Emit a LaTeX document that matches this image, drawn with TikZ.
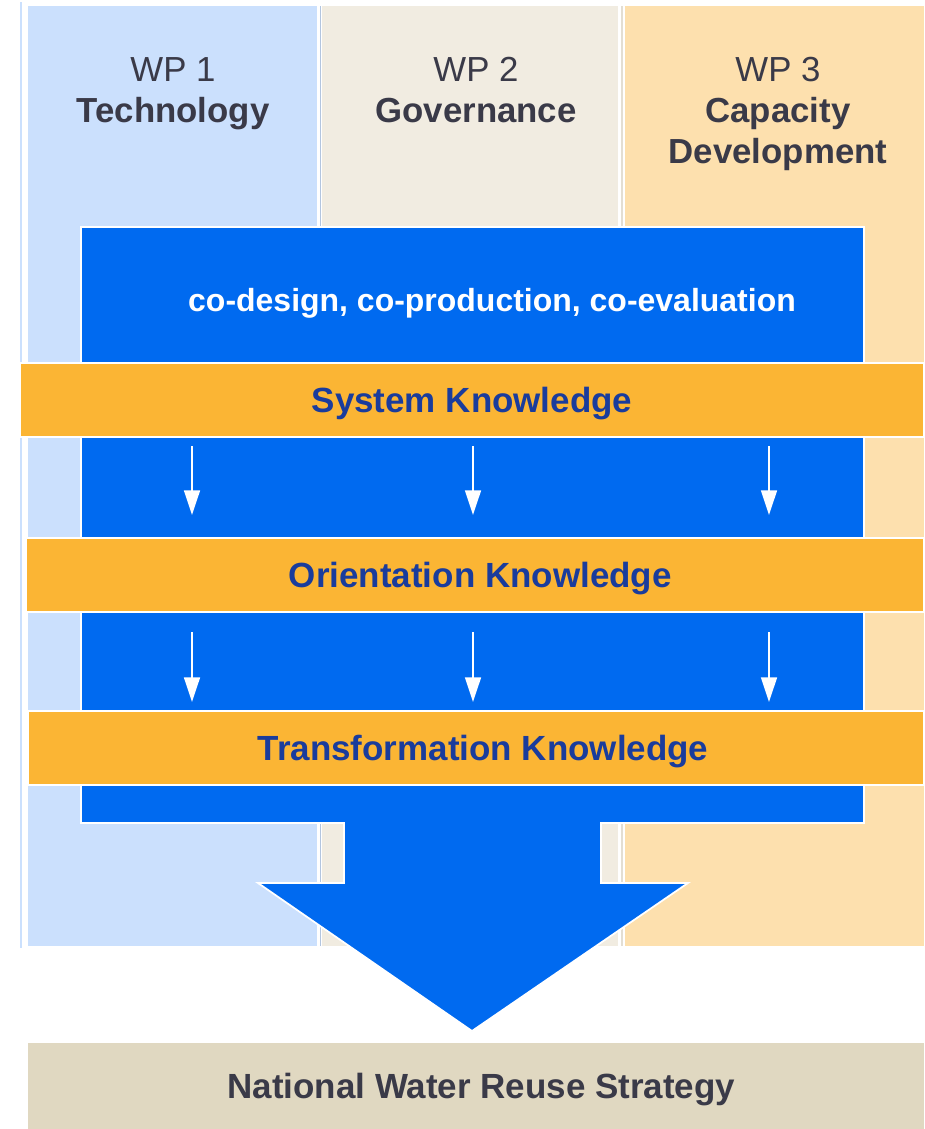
\documentclass[tikz,border=0pt]{standalone}
\usepackage{fontspec}
\setmainfont{Liberation Sans}
\usetikzlibrary{arrows.meta}

\definecolor{wpone}{HTML}{CBE0FD}
\definecolor{wptwo}{HTML}{F1ECE1}
\definecolor{wpthree}{HTML}{FDE0AE}
\definecolor{coblue}{HTML}{006AF0}
\definecolor{bandorange}{HTML}{FBB534}
\definecolor{navy}{HTML}{1A3C9C}
\definecolor{headgrey}{HTML}{3A3A48}
\definecolor{goalbeige}{HTML}{E0D8C1}

\begin{document}
\begin{tikzpicture}[
      x=0.02cm, y=-0.02cm,
      head/.style={
            anchor=north, align=center, inner sep=0pt,
            text=headgrey, font=\fontsize{19.8}{23.2}\selectfont
        },
      band/.style={
            rectangle, fill=bandorange, draw=white, line width=1pt,
            minimum height=74*0.02cm, inner sep=0pt,
            text=navy, font=\bfseries\fontsize{19.9}{23}\selectfont,
            text height=14pt, text depth=0pt
        },
      down/.style={
            white, line width=1.2pt,
            -{Triangle[width=9pt,length=14pt]}
        }
      ]
    \useasboundingbox (0,0) rectangle (924,1129);

    % work package columns
    \draw[wpone, line width=1.1pt] (21,2) -- (21,948);
    \fill[wpone] (28,6) rectangle (317,946);
    \draw[color=black!12!wpone, line width=0.6pt] (320.5,6) -- (320.5,946);
    \fill[wptwo] (322,6) rectangle (618,946);
    \draw[color=black!6!wptwo, line width=0.6pt] (622,6) -- (622,946);
    \fill[wpthree] (625,6) rectangle (924,946);

    \node[head] (wp1) at (173,57) {WP 1\\\textbf{Technology}};
    \node[head] (wp2) at (476,57) {WP 2\\\textbf{Governance}};
    \node[head] (wp3) at (778,57) {WP 3\\\textbf{Capacity}\\\textbf{Development}};

    % co-process block and big arrow
    \filldraw[fill=coblue, draw=white, line width=1pt]
      (81,227) -- (864,227) -- (864,823) -- (601,823) -- (601,883)
      -- (688,883) -- (472,1031) -- (258,883) -- (344,883)
      -- (344,823) -- (81,823) -- cycle;
    \node[text=white, inner sep=0pt, text height=13pt, text depth=0pt,
      font=\bfseries\fontsize{18.2}{22}\selectfont]
      (co) at (492,300) {co-design, co-production, co-evaluation};

    \node[band, minimum width=904*0.02cm] (sys) at (472,400) {System Knowledge};
    \node[band, minimum width=898*0.02cm] (ori) at (475,575) {\hspace*{6pt}Orientation Knowledge};
    \node[band, minimum width=896*0.02cm] (tra) at (476,748) {\hspace*{8pt}Transformation Knowledge};

    \foreach \x [count=\i] in {192,473,769} {
      \coordinate (a\i) at (\x,446);
      \coordinate (b\i) at (\x,515);
      \coordinate (c\i) at (\x,632);
      \coordinate (d\i) at (\x,702);
      \draw[down] (a\i) -- (b\i);
      \draw[down] (c\i) -- (d\i);
    }

    \node[fill=goalbeige, minimum width=896*0.02cm, minimum height=86*0.02cm,
      inner sep=0pt, text=headgrey, text height=14pt, text depth=0pt,
      font=\bfseries\fontsize{19.9}{23}\selectfont]
      (nwrs) at (476,1086) {\hspace*{6pt}National Water Reuse Strategy};
  \end{tikzpicture}
\end{document}
